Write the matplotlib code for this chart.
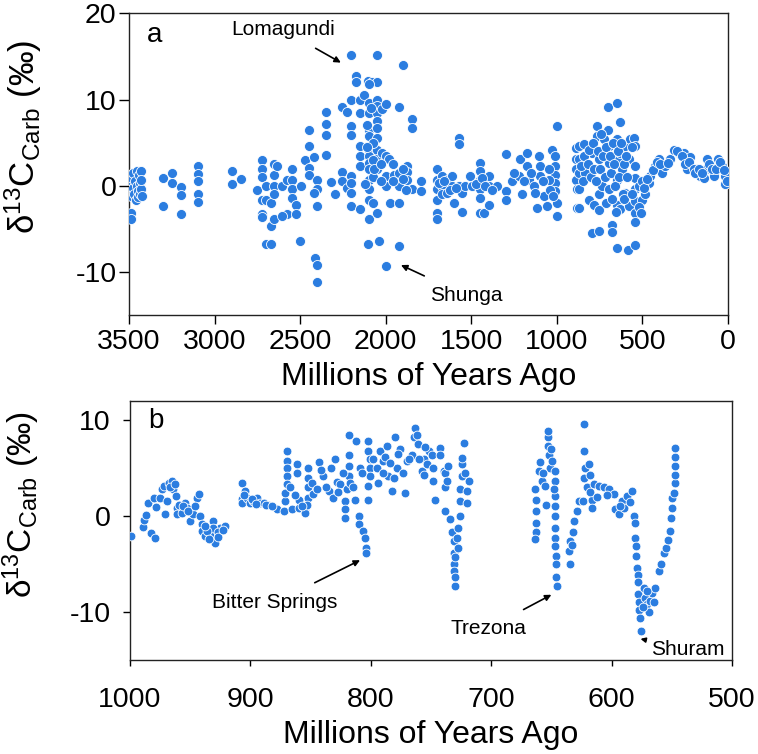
import matplotlib
matplotlib.use("Agg")
import matplotlib.pyplot as plt
import numpy as np

plt.rcParams['font.family'] = ['Liberation Sans', 'DejaVu Sans']
plt.rcParams['mathtext.fontset'] = 'custom'
plt.rcParams['mathtext.rm'] = 'Liberation Sans'
plt.rcParams['mathtext.it'] = 'Liberation Sans:italic'
plt.rcParams['axes.unicode_minus'] = False

# ---------------- Panel a data (age Ma, d13C permil) ----------------
a_age = [3495, 3492, 3490, 3488, 3486, 3480, 3478, 3475, 3470, 3465, 3460, 3455, 3452, 3450, 3445, 3440, 3438, 3435, 3432, 3430, 3428, 3425,
         3300, 3300, 3247, 3247, 3198, 3198, 3198,
         3097, 3097, 3097, 3097, 3097,
         2896, 2896, 2848,
         2725, 2725, 2725, 2750, 2725, 2725, 2722, 2702, 2702, 2672, 2672, 2700, 2672, 2650, 2650, 2650, 2650, 2650, 2635,
         2605, 2575, 2546, 2546, 2546, 2546, 2527, 2575, 2527, 2497, 2605, 2501,
         2472, 2449, 2449, 2449, 2449, 2420, 2414, 2400, 2400, 2400, 2400, 2400, 2420,
         2348, 2348, 2348, 2348, 2322, 2297,
         2254, 2225, 2200, 2200, 2200, 2254, 2254, 2225, 2200, 2200, 2200, 2200, 2200, 2172, 2172, 2149, 2149, 2149, 2149, 2149, 2149, 2126, 2102, 2080, 2050, 2050, 1900,
         2098, 2098, 2098, 2098, 2098, 2098, 2098, 2098, 2098, 2098, 2098, 2098, 2073, 2050, 2050, 2050, 2050, 2050, 2050, 2050, 2050, 2050, 2050, 2020, 2001, 2020, 2001, 2001, 2001, 1981, 1952, 1923, 1923, 1923, 1923, 2040, 2102, 2001, 1874, 1874, 1874, 1849, 1849, 1849, 1795, 1795, 1976, 1923,
         2075, 2075, 2075, 2070, 2030, 2030, 1960, 1960, 1900, 1900, 1880, 2110, 2110, 2120, 2100, 2085,
         1700, 1700, 1700, 1700, 1700, 1700, 1674, 1674, 1674, 1641, 1641, 1612, 1612, 1602, 1573, 1573, 1573, 1553, 1553, 1534, 1505, 1495, 1450, 1450, 1450, 1450, 1450, 1450, 1427, 1398, 1398, 1398, 1349, 1300, 1300, 1300, 1261, 1222, 1213, 1203, 1177, 1177, 1164, 1135, 1115, 1105, 1096, 1096, 1076, 1057, 1028, 1008, 1008, 1008, 1008, 1008, 1002, 1002, 1002, 1047, 1047,
         1690, 1660, 1625, 1590, 1470, 1440, 1420, 1380, 1250, 1190, 1150, 1125, 1080, 1040, 1020,
         891, 891, 891, 891, 882, 882,
         872, 872, 872, 872, 872, 843, 833, 814, 794, 784, 794, 765, 765, 755, 755, 751, 751, 736, 726, 701, 701, 697, 697, 697, 677, 677, 648, 648, 648, 648, 648, 648, 629, 629, 629, 619, 599, 599, 580, 580, 584, 570, 551, 541, 541, 541, 541, 541, 541, 541, 541, 522, 502, 483, 463, 453, 424, 405, 385, 366, 337, 317, 288, 259, 239, 220, 181, 161, 122, 103, 83, 58, 35, 15, 15, 128, 142,
         860, 850, 840, 820, 810, 800, 790, 780, 770, 760, 745, 740, 730, 720, 715, 710, 690, 685, 680, 670, 665, 660, 655, 640, 635, 625, 615, 610, 605, 595, 590, 560, 560, 520, 510, 500, 490, 475, 440, 415, 395, 350, 300, 270, 250, 230, 200, 190, 170, 150, 110, 95, 70, 45, 25, 5]
a_d13c = [0.3, -0.5, -1.2, -3.2, -3.8, 0.9, -0.2, 1.5, -0.9, 0.5, -1.6, 1.7, 0.0, -0.6, -1.3, 1.2, 0.3, -1.0, -0.4, 1.7, 0.7, -1.2,
          0.9, -2.4, 1.5, 0.35, -0.15, -1.1, -3.3,
          2.3, 1.4, 0.55, -0.9, -1.9,
          1.7, 0.16, 0.75,
          3.0, 1.9, 1.0, -0.5, -1.6, -3.3, -3.6, -0.03, -1.6, -2.05, -4.7, -6.7, -6.7, 2.5, 1.2, 0.0, -1.0, -3.85, 2.3,
          -0.03, 0.7, 1.9, 0.7, -0.4, -1.4, -2.2, -3.3, -3.3, 0.0, -3.5, -6.35,
          3.0, 6.5, 4.6, 2.1, 1.2, 3.4, -8.4, -9.2, -11.2, 0.7, -0.4, -2.4, -0.8,
          8.6, 7.2, 5.9, 3.6, 0.4, -1.0,
          9.2, 8.6, 9.96, 6.9, 5.9, 1.6, 0.55, -0.3, 1.1, 0.35, -0.8, -2.4, 15.2, 12.8, 12.0, 10.0, 8.5, 4.6, 3.5, 2.3, -2.75, 10.5, 12.2, 12.1, 12.0, 15.2, 14.0,
          9.65, 8.5, 6.5, 5.8, 4.2, 3.45, 2.7, 1.9, 0.7, -0.4, -1.6, -3.9, -2.0, 10.0, 9.3, 8.5, 7.5, 6.75, 5.6, 4.2, 3.1, 1.9, -3.1, 8.9, 9.5, 3.8, 3.45, 1.1, 0.0, 3.1, 1.3, 9.15, 1.5, 0.0, -7.0, -6.35, -6.8, -9.3, 2.3, 1.6, 0.7, 7.8, 6.75, -0.35, 0.55, -0.6, -2.0, -2.05,
          3.0, 5.0, 1.0, 2.0, 2.5, 0.5, 2.5, 0.5, 0.8, 2.0, -0.5, 7.0, 4.5, 0.2, 11.8, 9.0,
          1.9, 0.7, -0.4, -1.6, -3.1, -3.9, 1.1, 0.0, -1.0, 0.7, -0.8, 1.1, 0.0, -2.0, 5.6, 4.9, 0.0, -0.8, -3.0, 0.0, 1.1, 0.0, 2.7, 1.7, 0.7, -0.4, -1.4, -3.1, -3.1, 1.1, 0.0, -2.2, 0.0, 3.65, -0.6, -1.6, 0.55, 1.1, 3.1, -1.0, 3.8, 2.3, 0.7, 0.0, -2.6, 3.45, 2.3, 1.1, -1.2, -2.4, 4.2, 3.45, 2.3, 1.3, 0.35, -0.6, -2.05, -3.45, 6.9, 1.9, 0.7,
          0.3, 0.5, -0.5, -0.3, 0.2, 0.9, 0.0, -0.5, 1.5, 0.5, 1.5, -0.8, 0.5, -0.5, -1.2,
          4.4, 3.1, 1.9, 0.7, -0.4, -2.6,
          4.6, 3.1, 1.5, -0.4, -2.6, 4.8, 1.5, -1.6, 3.8, -2.2, -5.5, 6.9, 5.8, 3.1, -1.0, -2.8, -5.3, 0.0, 5.4, 9.1, 6.5, 4.6, 2.7, -0.4, -4.5, -5.4, 9.6, 5.4, 3.1, 0.7, -2.2, -7.2, 7.4, 3.8, -2.75, 1.9, 4.6, -0.8, 3.1, -2.4, -7.4, 5.4, 5.6, 4.6, 2.3, 0.9, -0.4, -1.8, -3.1, -4.2, -6.9, 0.0, -1.6, -1.0, 0.35, 1.1, 2.3, 3.1, 1.5, 2.3, 3.1, 4.2, 3.8, 3.8, 1.9, 3.3, 1.9, 1.1, 3.1, 1.9, 1.1, 3.1, 2.3, 1.1, 0.16, 1.9, 0.9,
          2.3, 0.5, 3.5, 2.5, 4.2, 1.0, 5.0, 2.0, 0.5, 4.0, 2.0, 6.0, 3.5, 1.0, -2.0, 4.5, 3.5, 1.5, -1.5, 5.0, 2.5, 0.0, -3.0, 4.0, 1.0, 5.0, -1.0, 2.5, -1.5, 3.5, 1.0, 4.5, -1.0, -2.5, -3.2, 0.5, -0.3, 0.8, 1.8, 2.8, 2.5, 2.7, 4.0, 3.5, 2.5, 2.8, 2.0, 1.5, 2.0, 1.5, 2.5, 2.0, 2.0, 2.8, 1.8, 0.5]

# ---------------- Panel b data ----------------
b_age = [999, 989.5, 988, 986.7, 984.8, 982.8, 979, 980, 978.4, 975, 973.7, 972, 971, 969.5, 968, 965.4, 964, 961.8, 961.2, 961, 957, 954.3, 953, 950, 947.4, 944.6, 943, 941.8, 940.4, 940.4, 937.7, 933.5, 930.7, 929.4, 928, 925, 921, 931, 935.7, 926.6,
         967, 963, 959, 956, 952, 946, 938, 934, 927, 923,
         907, 907, 907, 904.4, 902.5, 900, 897.5, 894.7, 892, 889, 885, 878, 905, 899, 895, 887, 882,
         872.5, 871.1, 871.1, 869.8, 869.8, 869.8, 869.8, 869.8, 865.6, 861.4, 861.4, 860, 860, 854.5, 854.5, 851.8, 851.8, 851.8, 851.8, 853, 847.6, 843.4, 839.3, 835.1, 831, 829.6, 828, 825.4, 821.3, 821.3, 821.3, 820, 818.5, 818.5, 818.5, 818.5, 817, 813, 812.2, 810.2, 810.2, 809, 806.6, 804.7, 803.9, 803.9, 802, 802, 801, 801, 801, 802, 802.5, 795, 792.2, 789.5, 786.7, 785.3, 782.5, 779.8, 778.4, 775.6, 771.4, 770, 766, 764.5, 763.1, 762, 760.4, 757.6, 756.2, 756.2, 752, 753,
         867, 863, 857, 849, 845, 841, 837, 833, 827, 823, 815, 807, 798, 794, 790, 788, 784, 781, 777, 773, 768, 760, 755,
         749.3, 748, 748, 746.5, 742.4, 742.4, 739.6, 738.2, 738.2, 735.5, 736.8, 738.2, 734, 732.7, 731.3, 731.3, 731, 730.5, 729.9, 728.5, 727.2, 725.8, 725.8, 725.8, 724.4, 724.4, 724.4, 723, 721.6, 720.2, 720.2, 718.8, 727.2, 729.9, 729.9,
         663.4, 662.6, 662.6, 662.6, 662.6, 663.4, 660.7, 659.3, 658, 655, 654.3, 653.2, 653.2, 653.2, 652.4, 651, 649.6, 646.8, 646.8, 646.8, 646.8, 646.8, 646.8, 646.8, 646.8, 646, 646, 646, 645.4,
         635.7, 634.9, 634.3, 631.8, 631.2, 627.4, 657, 650, 648, 633, 629,
         623.2, 623.2, 621.8, 622.7, 623.8, 619.1, 617.7, 616.3, 616.3, 620.5, 614.9, 610.8, 606.6, 602.5, 598.3, 597, 594.2, 591.4, 590, 587.2, 583, 581.7, 580.9, 580.3, 579.5, 579.5, 578.9, 578.4, 578.4, 578.4, 577.5, 577.5, 576.1, 575.3, 573.4, 572, 570.6, 569.2, 567.8, 566.4, 563.7, 560.9, 556.8, 554.5, 551.2, 550.7, 549.8, 549.8, 548.4, 547, 547, 547, 547, 547.6,
         618, 612, 604, 593, 585, 574, 571, 565, 559, 553]
b_d13c = [-2.1, -1.1, -0.45, 0.1, 1.4, -1.8, -2.3, 1.9, 0.94, 1.9, 2.8, 3.1, 0.2, 1.6, 3.5, 3.65, 2.8, 2.1, 0.87, 0.2, 0.35, 1.4, 0.87, -0.52, 0.2, 1.9, 2.3, 0.0, -0.87, -1.56, -2.1, -1.9, -0.52, -2.8, -1.4, -1.2, -1.0, -1.2, -1.56, -1.7,
          3.0, 3.3, 1.2, 1.0, 0.5, 1.0, -1.0, -2.4, -2.2, -1.5,
          3.5, 1.8, 1.4, 2.6, 1.9, 1.4, 1.6, 1.9, 1.4, 1.4, 1.2, 0.7, 2.2, 1.8, 1.3, 1.2, 1.0,
          0.52, 1.6, 2.4, 5.7, 5.0, 4.2, 3.3, 6.8, 0.7, 5.4, 4.5, 1.7, 0.87, 0.7, 0.35, 5.0, 4.0, 3.0, 1.9, 1.2, 2.3, 5.6, 4.2, 2.6, 1.9, 5.9, 3.6, 3.3, 1.6, 0.7, -0.17, 2.8, 8.5, 6.4, 5.2, 4.2, 3.5, 1.7, 7.8, 0.0, -0.87, 5.0, -1.6, -2.3, -3.3, -3.8, 7.8, 6.8, 5.9, 5.0, 4.2, 3.1, 1.7, 5.0, 6.8, 5.7, 7.3, 4.2, 2.6, 8.2, 5.0, 7.0, 2.4, 5.7, 6.4, 8.2, 9.2, 8.5, 7.5, 4.7, 5.9, 4.3, 6.8, 5.4,
          3.0, 2.2, 1.0, 3.5, 2.8, 4.8, 3.0, 5.0, 2.5, 4.5, 3.0, 4.5, 6.0, 3.5, 4.5, 6.2, 5.5, 4.0, 6.5, 4.5, 6.0, 6.0, 7.2,
          6.4, 5.0, 3.65, 1.7, 7.1, 6.4, 4.7, 3.0, 4.5, 5.2, 3.65, 0.52, -0.35, -1.7, -2.6, -3.8, -5.0, -5.7, -7.3, -2.3, -1.2, 0.0, 1.6, 2.8, 4.2, 5.4, 6.1, 7.6, 4.5, 2.6, 1.4, 3.65, -3.3, -4.3, -6.4,
          2.8, 1.7, 0.52, -0.7, -1.7, -2.4, 4.7, 5.6, 3.65, 3.1, 1.2, 8.2, 8.9, 7.3, 6.4, 5.0, 5.7, 4.7, 3.65, 2.1, 1.0, 0.0, -1.2, -2.3, -3.1, -4.2, -5.0, -6.4, -7.3,
          -3.6, -5.0, -2.6, -1.7, -0.5, 1.6, 4.5, 7.0, 2.8, -3.0, 0.5,
          9.6, 6.8, 5.0, 4.0, 1.6, 5.4, 4.3, 1.7, 0.87, 3.0, 3.3, 3.1, 3.0, 2.8, 2.3, 0.7, 0.2, 1.6, 0.87, 2.1, 2.6, 0.0, -0.7, -2.25, -3.1, -4.2, -5.4, -6.1, -6.9, -8.1, -9.0, -9.8, -10.6, -12.0, -7.5, -8.5, -9.2, -10.0, -8.9, -8.0, -7.5, -5.7, -3.8, -3.3, -1.6, -0.17, 0.87, 1.9, 2.4, 3.5, 4.3, 5.2, 6.2, 7.1,
          2.5, 2.0, 2.2, 1.0, 1.5, -9.5, -7.8, -9.0, -5.0, -2.5]

a_xticks = [3500, 3000, 2500, 2000, 1500, 1000, 500, 0]
a_yticks = [-10, 0, 10, 20]
b_xticks = [1000, 900, 800, 700, 600, 500]
b_yticks = [-10, 0, 10]

BLUE = '#2b7de0'
ylab = r'$\mathrm{\delta^{13}C_{Carb}}$ (‰)'

fig = plt.figure(figsize=(7.58, 7.54), dpi=100)
axa = fig.add_axes([0.1702, 0.5822, 0.7902, 0.3999])
axb = fig.add_axes([0.1715, 0.1247, 0.7942, 0.3435])

for ax in (axa, axb):
    for s in ax.spines.values():
        s.set_linewidth(1.0)
        s.set_color('#222222')

axa.tick_params(axis='x', direction='out', length=6.3, width=1.0, labelsize=20.5, pad=4)
axa.tick_params(axis='y', direction='out', length=7, width=1.0, labelsize=20.5, pad=2)
axb.tick_params(axis='x', direction='out', length=4.5, width=1.0, labelsize=20.5, pad=15)
axb.tick_params(axis='y', direction='out', length=5, width=1.0, labelsize=20.5, pad=9)

axa.scatter(a_age, a_d13c, s=52, color=BLUE, edgecolor='white', linewidth=0.6, zorder=3)
axa.set_xlim(3500, 0)
axa.set_ylim(-15, 20)
axa.set_xticks(a_xticks)
axa.set_yticks(a_yticks)
axa.set_xlabel('Millions of Years Ago', fontsize=23, labelpad=5)
axa.set_ylabel(ylab, fontsize=25)
axa.yaxis.set_label_coords(-0.142, 0.59)
axa.text(0.03, 0.904, 'a', transform=axa.transAxes, fontsize=20, va='baseline', ha='left')
axa.annotate('Lomagundi', xy=(2262, 14.3), xytext=(2600, 18.1), fontsize=15,
             ha='center', va='center',
             arrowprops=dict(arrowstyle='-|>', color='black', lw=1.2, shrinkA=9, shrinkB=0, mutation_scale=9))
axa.annotate('Shunga', xy=(1911, -9.2), xytext=(1532, -12.7), fontsize=15,
             ha='center', va='center',
             arrowprops=dict(arrowstyle='-|>', color='black', lw=1.2, shrinkA=12, shrinkB=0, mutation_scale=9))

axb.scatter(b_age, b_d13c, s=40, color=BLUE, edgecolor='white', linewidth=0.6, zorder=3)
axb.set_xlim(1000, 500)
axb.set_ylim(-15, 12)
axb.set_xticks(b_xticks)
axb.set_yticks(b_yticks)
axb.set_xlabel('Millions of Years Ago', fontsize=23, labelpad=5)
axb.set_ylabel(ylab, fontsize=24)
axb.yaxis.set_label_coords(-0.147, 0.60)
axb.text(0.03, 0.896, 'b', transform=axb.transAxes, fontsize=20, va='baseline', ha='left')
axb.annotate('Bitter Springs', xy=(808.9, -4.6), xytext=(879.5, -9.0), fontsize=15,
             ha='center', va='center',
             arrowprops=dict(arrowstyle='-|>', color='black', lw=1.2, shrinkA=12, shrinkB=0, mutation_scale=9))
axb.annotate('Trezona', xy=(650, -8.2), xytext=(702.5, -11.7), fontsize=15,
             ha='center', va='center',
             arrowprops=dict(arrowstyle='-|>', color='black', lw=1.2, shrinkA=10, shrinkB=0, mutation_scale=9))
axb.annotate('Shuram', xy=(576, -12.8), xytext=(567, -13.9), fontsize=15,
             ha='left', va='center',
             arrowprops=dict(arrowstyle='-|>', color='black', lw=1.2, shrinkA=2, shrinkB=0, mutation_scale=7))

fig.savefig('out.png', dpi=100)
